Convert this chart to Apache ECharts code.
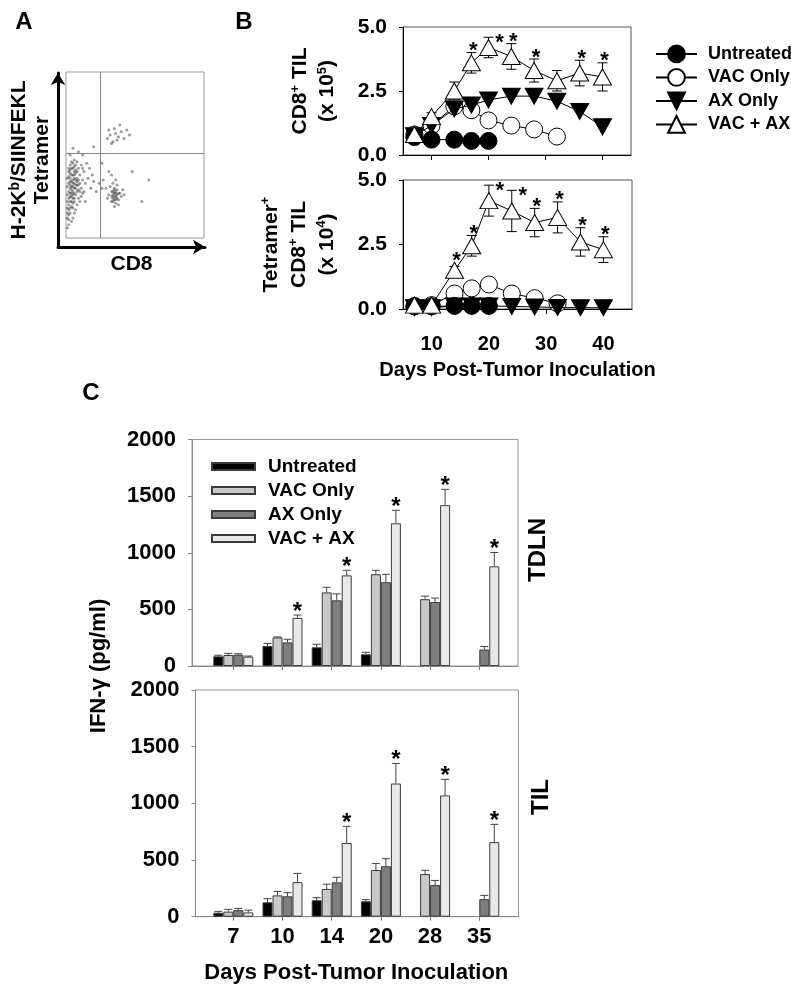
<!DOCTYPE html>
<html>
<head>
<meta charset="utf-8">
<script src="https://cdn.jsdelivr.net/npm/echarts@6/dist/echarts.min.js"></script>
<style>html,body{margin:0;padding:0;background:#fff}#c{width:791px;height:990px}</style>
</head>
<body>
<div id="c"></div>
<script>
const FONT = '"Liberation Sans", Arial, Helvetica, sans-serif';

// ---------- Panel A: flow events (approximate, % of axis range) ----------
const flowEvents = [
  [2,40],[3,36],[4,42],[5,38],[6,33],[3,30],[5,28],[7,35],[8,40],[4,25],[6,22],[2,20],[3,15],[5,18],
  [8,28],[9,32],[10,38],[7,44],[4,46],[6,47],[9,24],[11,30],[12,35],[2,33],[3,44],[5,31],[7,26],[8,20],
  [10,22],[6,15],[1,12],[2,8],[1,26],[4,34],[6,40],[8,36],[9,42],[11,44],[13,40],[12,27],[14,33],[5,12],
  [3,22],[7,30],[10,28],[2,37],[4,29],[6,36],[3,27],[5,42],[7,39],[9,35],[1,31],[2,24],[4,19],[6,27],
  [8,32],[3,39],[5,24],[1,18],[2,14],[1,6],[4,10],[7,17],[11,25],[13,28],[10,33],[12,42],[8,46],[5,35],
  [3,34],[4,38],[5,33],[6,30],[7,32],[4,31],[3,41],[5,45],[6,43],[2,28],[3,25],[4,22],[5,21],[2,17],
  [6,38],[7,41],[8,34],[9,29],[4,27],[3,32],[5,26],[6,24],[2,42],[1,36],[1,22],[2,11],[1,15],[3,18],
  [16,36],[18,30],[20,34],[22,28],[15,45],[17,42],[19,38],[24,33],[14,22],[12,50],[9,52],[5,54],[3,50],
  [31,26],[33,28],[34,24],[35,27],[36,25],[37,29],[38,23],[36,21],[33,22],[35,30],[39,27],[40,25],[32,31],
  [34,33],[37,32],[30,24],[41,29],[35,19],[38,20],[42,26],[29,30],[36,35],[33,38],[31,40],[27,35],[26,30],
  [34,26],[36,28],[35,23],[37,26],[33,25],[38,27],[35,25],[36,27],[34,28],[37,24],[35,29],[36,23],[34,22],
  [30,60],[32,62],[34,58],[36,63],[38,61],[35,66],[40,64],[42,60],[44,65],[33,57],[37,59],[46,62],[31,65],[39,68],
  [55,22],[60,35],[48,40],[20,55],[26,45]
];
const gateCD8 = 25;
const gateTet = 51;

// ---------- Panel B ----------
const daysB = [7, 10, 14, 17, 20, 24, 28, 32, 36, 40];
const bTicks = [10, 20, 30, 40];
const groups = ['Untreated', 'VAC Only', 'AX Only', 'VAC + AX'];

const cd8Untreated = [0.7, 0.6, 0.6, 0.55, 0.55];
const cd8Vac = [0.8, 1.15, 1.9, 1.75, 1.35, 1.15, 1.0, 0.72];
const cd8Ax = [0.75, 1.15, 1.8, 1.95, 2.15, 2.3, 2.3, 2.1, 1.7, 1.1];
const cd8VacAx = [0.8, 1.5, 2.5, 3.6, 4.2, 3.85, 3.3, 2.9, 3.2, 3.05];
const cd8VacAxErr = [0.1, 0.15, 0.35, 0.4, 0.4, 0.5, 0.45, 0.4, 0.5, 0.55];
const cd8Stars = [17, 20, 24, 28, 36, 40];

const tetUntreated = [0.1, 0.1, 0.12, 0.12, 0.12];
const tetVac = [0.12, 0.15, 0.6, 0.8, 0.95, 0.6, 0.42, 0.22];
const tetAx = [0.05, 0.05, 0.12, 0.12, 0.12, 0.1, 0.08, 0.06, 0.05, 0.05];
const tetVacAx = [0.15, 0.15, 1.5, 2.45, 4.2, 3.8, 3.35, 3.55, 2.6, 2.3];
const tetVacAxErr = [0.05, 0.05, 0.15, 0.4, 0.6, 0.8, 0.55, 0.6, 0.55, 0.5];
const tetStars = [14, 17, 20, 24, 28, 32, 36, 40];

// ---------- Panel C ----------
const daysC = ['7', '10', '14', '20', '28', '35'];

const tdlnUntreated = [85, 177, 165, 103, null, null];
const tdlnUntreatedErr = [10, 22, 27, 18, 0, 0];
const tdlnVac = [97, 252, 650, 810, 590, null];
const tdlnVacErr = [15, 5, 45, 35, 27, 0];
const tdlnAx = [100, 208, 580, 740, 565, 145];
const tdlnAxErr = [8, 28, 57, 70, 35, 27];
const tdlnVacAx = [83, 425, 800, 1260, 1420, 880];
const tdlnVacAxErr = [5, 25, 45, 115, 140, 122];
const tdlnStars = ['10', '14', '20', '28', '35'];

const tilUntreated = [35, 127, 145, 136, null, null];
const tilUntreatedErr = [12, 32, 23, 14, 0, 0];
const tilVac = [45, 188, 245, 412, 376, null];
const tilVacErr = [20, 35, 42, 58, 33, 0];
const tilAx = [58, 180, 303, 445, 280, 155];
const tilAxErr = [15, 32, 45, 67, 40, 33];
const tilVacAx = [38, 305, 650, 1175, 1070, 658];
const tilVacAxErr = [20, 77, 147, 177, 142, 157];
const tilStars = ['14', '20', '28', '35'];

// ---------- helpers ----------
const BAR_W = 10;
const boldFont = s => 'bold ' + s + 'px ' + FONT;
const txt = s => ({ fontFamily: FONT, fontWeight: 'bold', fontSize: s, color: '#000' });
const pairs = (days, vals) => vals.map((v, i) => [days[i], v]);
const triDown = 'path://M0,0L20,0L10,18Z';
const triUp = 'path://M10,0L20,18L0,18Z';

function renderBErr(params, api) {
  const x = api.value(0), m = api.value(1), e = api.value(2), star = api.value(3);
  const top = api.coord([x, m + e]), bot = api.coord([x, m - e]), mid = api.coord([x, m]);
  const px = top[0];
  const st = { stroke: '#000', lineWidth: 1 };
  const ch = [
    { type: 'line', shape: { x1: px, y1: top[1], x2: px, y2: bot[1] }, style: st },
    { type: 'line', shape: { x1: px - 5, y1: top[1], x2: px + 5, y2: top[1] }, style: st },
    { type: 'line', shape: { x1: px - 5, y1: bot[1], x2: px + 5, y2: bot[1] }, style: st }
  ];
  if (star) {
    let sx, sy;
    if (m + e > 4.4) { sx = px + 11; sy = top[1] + 1; }
    else { sx = px + 2; sy = Math.min(top[1], mid[1] - 8) - 6; }
    ch.push({ type: 'text', style: { text: '*', x: sx, y: sy + 4.5, align: 'center', verticalAlign: 'middle', font: boldFont(22), fill: '#000' } });
  }
  return { type: 'group', children: ch };
}

function bSeries(g, u, v, a, va, vaErr, stars) {
  const base = { type: 'line', xAxisIndex: g, yAxisIndex: g, clip: false, showAllSymbol: true,
    lineStyle: { color: '#000', width: 1 }, symbolSize: 17 };
  const err = va.map((m, i) => [daysB[i], m, vaErr[i], stars.includes(daysB[i]) ? 1 : 0]);
  return [
    Object.assign({}, base, { name: 'VAC Only', z: 2, data: pairs(daysB, v), symbol: 'circle',
      itemStyle: { color: '#fff', borderColor: '#000', borderWidth: 1 } }),
    Object.assign({}, base, { name: 'Untreated', z: 3, data: pairs(daysB, u), symbol: 'circle',
      itemStyle: { color: '#000', borderColor: '#000', borderWidth: 1 } }),
    Object.assign({}, base, { name: 'AX Only', z: 4, data: pairs(daysB, a), symbol: triDown, symbolSize: [18, 16],
      itemStyle: { color: '#000', borderColor: '#000', borderWidth: 1 } }),
    { type: 'custom', xAxisIndex: g, yAxisIndex: g, z: 5, silent: true, data: err, renderItem: renderBErr,
      encode: { x: 0, y: 1 } },
    Object.assign({}, base, { name: 'VAC + AX', z: 6, data: pairs(daysB, va), symbol: triUp, symbolSize: [18, 16],
      itemStyle: { color: '#fff', borderColor: '#000', borderWidth: 1 } })
  ];
}

const barColors = ['#000000', '#c8c8c8', '#7f7f7f', '#e8e8e8'];

function renderCErr(params, api) {
  const i = api.value(0), v = api.value(1), e = api.value(2), s = api.value(3), star = api.value(4);
  const c = api.coord([i, v]), t = api.coord([i, v + e]);
  const x = c[0] + (s - 1.5) * BAR_W;
  const st = { stroke: '#444', lineWidth: 1 };
  const ch = [];
  if (e > 0) {
    ch.push({ type: 'line', shape: { x1: x, y1: c[1], x2: x, y2: t[1] }, style: st });
    ch.push({ type: 'line', shape: { x1: x - 4, y1: t[1], x2: x + 4, y2: t[1] }, style: st });
  }
  if (star) {
    ch.push({ type: 'text', style: { text: '*', x: x, y: t[1] - 8 + 5, align: 'center', verticalAlign: 'middle', font: boldFont(24), fill: '#000' } });
  }
  return { type: 'group', children: ch };
}

function cSeries(g, vals, errs, stars) {
  const list = groups.map((name, s) => ({
    type: 'bar', name: 'C:' + name, xAxisIndex: g, yAxisIndex: g, data: vals[s],
    barWidth: BAR_W, barGap: '0%', z: 2,
    itemStyle: { color: barColors[s], borderColor: '#3c3c3c', borderWidth: 1 }
  }));
  const err = [];
  vals.forEach((arr, s) => arr.forEach((v, i) => {
    if (v != null) err.push([i, v, errs[s][i], s, (s === 3 && stars.includes(daysC[i])) ? 1 : 0]);
  }));
  list.push({ type: 'custom', xAxisIndex: g, yAxisIndex: g, z: 3, silent: true, data: err, renderItem: renderCErr,
    encode: { x: 0, y: 1 } });
  return list;
}

// ---------- axes ----------
const arrowLine = { show: true, symbol: ['none', 'arrow'], symbolSize: [11, 12], lineStyle: { color: '#000', width: 3 } };

const bY = (name, nameGap, lh) => ({
  type: 'value', min: 0, max: 5, interval: 2.5,
  axisLine: { show: true, lineStyle: { color: '#000', width: 1 } },
  axisTick: { show: true, length: 4, lineStyle: { color: '#000' } },
  axisLabel: Object.assign(txt(21), { margin: 16, formatter: v => v.toFixed(1) }),
  splitLine: { show: false },
  name: name, nameLocation: 'middle', nameGap: nameGap, nameRotate: 90, nameMoveOverlap: false,
  nameTextStyle: { rich: {
    t: { fontFamily: FONT, fontWeight: 'bold', fontSize: 21, color: '#000', lineHeight: lh },
    s: { fontFamily: FONT, fontWeight: 'bold', fontSize: 13, color: '#000', lineHeight: lh, verticalAlign: 'top', padding: [2, 0, 0, 0] }
  } }
});
const bX = (showLabels) => ({
  type: 'value', min: 5, max: 45,
  axisLine: { show: true, onZero: false, lineStyle: { color: '#000', width: 1 } },
  axisTick: { show: true, length: 5, customValues: bTicks, lineStyle: { color: '#000' } },
  axisLabel: Object.assign(txt(20), { show: showLabels, margin: 25, customValues: bTicks }),
  splitLine: { show: false },
  name: showLabels ? 'Days Post-Tumor Inoculation' : '', nameLocation: 'middle', nameGap: 51, nameMoveOverlap: false,
  nameTextStyle: txt(20)
});
const cFrameX = { type: 'value', min: 0, max: 1, axisLine: { show: true, lineStyle: { color: '#888', width: 1 } },
  axisTick: { show: false }, axisLabel: { show: false }, splitLine: { show: false } };
const cFrameY = { type: 'value', min: 0, max: 2000, interval: 500,
  axisLine: { show: true, lineStyle: { color: '#888', width: 1 } },
  axisTick: { show: true, length: 4, lineStyle: { color: '#888' } },
  axisLabel: Object.assign(txt(22), { margin: 16, formatter: v => String(v) }), splitLine: { show: false } };
const cBarX = (showLabels) => ({
  type: 'category', data: daysC,
  axisLine: { show: false },
  axisTick: { show: true, alignWithLabel: true, interval: 0, length: 4, lineStyle: { color: '#777' } },
  axisLabel: Object.assign(txt(22), { show: showLabels, margin: 9, interval: 0 }),
  splitLine: { show: false },
  name: showLabels ? 'Days Post-Tumor Inoculation' : '', nameLocation: 'middle', nameGap: 45, nameMoveOverlap: false,
  nameTextStyle: txt(22)
});
const cBarY = { type: 'value', min: 0, max: 2000, show: false };

const option = {
  animation: false,
  backgroundColor: '#fff',
  grid: [
    { left: 58, top: 73, width: 147, height: 174, outerBoundsMode: 'none' },
    { left: 66, top: 72, width: 138, height: 166, show: true, borderColor: '#999', borderWidth: 1, outerBoundsMode: 'none' },
    { left: 403, top: 27, width: 228, height: 128, show: true, borderColor: '#555', borderWidth: 1, outerBoundsMode: 'none' },
    { left: 403, top: 180, width: 229, height: 129, show: true, borderColor: '#555', borderWidth: 1, outerBoundsMode: 'none' },
    { left: 192, top: 439.5, width: 326, height: 226.5, show: true, borderColor: '#999', borderWidth: 1, outerBoundsMode: 'none' },
    { left: 208.7, top: 439.5, width: 295.2, height: 226.5, outerBoundsMode: 'none' },
    { left: 195.5, top: 690, width: 323, height: 226.7, show: true, borderColor: '#999', borderWidth: 1, outerBoundsMode: 'none' },
    { left: 208.7, top: 690, width: 295.2, height: 226.7, outerBoundsMode: 'none' }
  ],
  xAxis: [
    { gridIndex: 0, type: 'value', min: 0, max: 1, axisLine: arrowLine, axisTick: { show: false }, axisLabel: { show: false },
      splitLine: { show: false }, name: 'CD8', nameLocation: 'middle', nameGap: 7, nameMoveOverlap: false, nameTextStyle: txt(21) },
    { gridIndex: 1, type: 'value', min: 0, max: 100, show: false },
    Object.assign({ gridIndex: 2 }, bX(false)),
    Object.assign({ gridIndex: 3 }, bX(true)),
    Object.assign({ gridIndex: 4 }, cFrameX),
    Object.assign({ gridIndex: 5 }, cBarX(false)),
    Object.assign({ gridIndex: 6 }, cFrameX),
    Object.assign({ gridIndex: 7 }, cBarX(true))
  ],
  yAxis: [
    { gridIndex: 0, type: 'value', min: 0, max: 1, axisLine: arrowLine, axisTick: { show: false }, axisLabel: { show: false },
      splitLine: { show: false },
      name: '{t|H-2K}{s|b}{t|/SIINFEKL}\n{t|Tetramer}', nameLocation: 'middle', nameGap: 4, nameRotate: 90, nameMoveOverlap: false,
      nameTextStyle: { rich: {
        t: { fontFamily: FONT, fontWeight: 'bold', fontSize: 21, color: '#000', lineHeight: 23 },
        s: { fontFamily: FONT, fontWeight: 'bold', fontSize: 14, color: '#000', lineHeight: 23, verticalAlign: 'top' }
      } } },
    { gridIndex: 1, type: 'value', min: 0, max: 100, show: false },
    Object.assign({ gridIndex: 2 }, bY('{t|CD8}{s|+}{t| TIL}\n{t|(x 10}{s|5}{t|)}', 62, 27)),
    Object.assign({ gridIndex: 3 }, bY('{t|Tetramer}{s|+}\n{t|CD8}{s|+}{t| TIL}\n{t|(x 10}{s|4}{t|)}', 62, 28)),
    Object.assign({ gridIndex: 4 }, cFrameY),
    Object.assign({ gridIndex: 5 }, cBarY),
    Object.assign({ gridIndex: 6 }, cFrameY),
    Object.assign({ gridIndex: 7 }, cBarY)
  ],
  legend: [
    { data: groups, orient: 'vertical', left: 650, top: 39.5, itemWidth: 41, itemHeight: 21, itemGap: 4.7,
      textStyle: Object.assign(txt(18), { padding: [0, 0, 0, 6] }), selectedMode: false },
    { data: groups.map(g => 'C:' + g), orient: 'vertical', left: 206, top: 452, itemWidth: 43, itemHeight: 7, itemGap: 5,
      icon: 'rect', formatter: n => n.replace('C:', ''),
      textStyle: Object.assign(txt(19), { padding: [0, 0, 0, 8] }), selectedMode: false }
  ],
  series: [
    { type: 'scatter', xAxisIndex: 1, yAxisIndex: 1, data: flowEvents, symbolSize: 3, silent: true,
      itemStyle: { color: 'rgba(45,45,45,0.6)' },
      markLine: { silent: true, symbol: 'none', label: { show: false }, lineStyle: { color: '#888', width: 1, type: 'solid' },
        data: [{ xAxis: gateCD8 }, { yAxis: gateTet }] } }
  ]
    .concat(bSeries(2, cd8Untreated, cd8Vac, cd8Ax, cd8VacAx, cd8VacAxErr, cd8Stars))
    .concat(bSeries(3, tetUntreated, tetVac, tetAx, tetVacAx, tetVacAxErr, tetStars))
    .concat(cSeries(5, [tdlnUntreated, tdlnVac, tdlnAx, tdlnVacAx], [tdlnUntreatedErr, tdlnVacErr, tdlnAxErr, tdlnVacAxErr], tdlnStars))
    .concat(cSeries(7, [tilUntreated, tilVac, tilAx, tilVacAx], [tilUntreatedErr, tilVacErr, tilAxErr, tilVacAxErr], tilStars)),
  graphic: [
    { type: 'text', x: 24, y: 22, style: { text: 'A', font: boldFont(24), fill: '#000', align: 'center', verticalAlign: 'middle' } },
    { type: 'text', x: 244, y: 22, style: { text: 'B', font: boldFont(24), fill: '#000', align: 'center', verticalAlign: 'middle' } },
    { type: 'text', x: 91, y: 393, style: { text: 'C', font: boldFont(24), fill: '#000', align: 'center', verticalAlign: 'middle' } },
    { type: 'text', x: 99, y: 666, rotation: Math.PI / 2, style: { text: 'IFN-γ (pg/ml)', font: boldFont(22), fill: '#000', align: 'center', verticalAlign: 'middle' } },
    { type: 'text', x: 538, y: 550, rotation: Math.PI / 2, style: { text: 'TDLN', font: boldFont(24), fill: '#000', align: 'center', verticalAlign: 'middle' } },
    { type: 'text', x: 541, y: 797, rotation: Math.PI / 2, style: { text: 'TIL', font: boldFont(24), fill: '#000', align: 'center', verticalAlign: 'middle' } }
  ]
};

const chart = echarts.init(document.getElementById('c'), null, { renderer: 'canvas' });
chart.setOption(option);
</script>
</body>
</html>
